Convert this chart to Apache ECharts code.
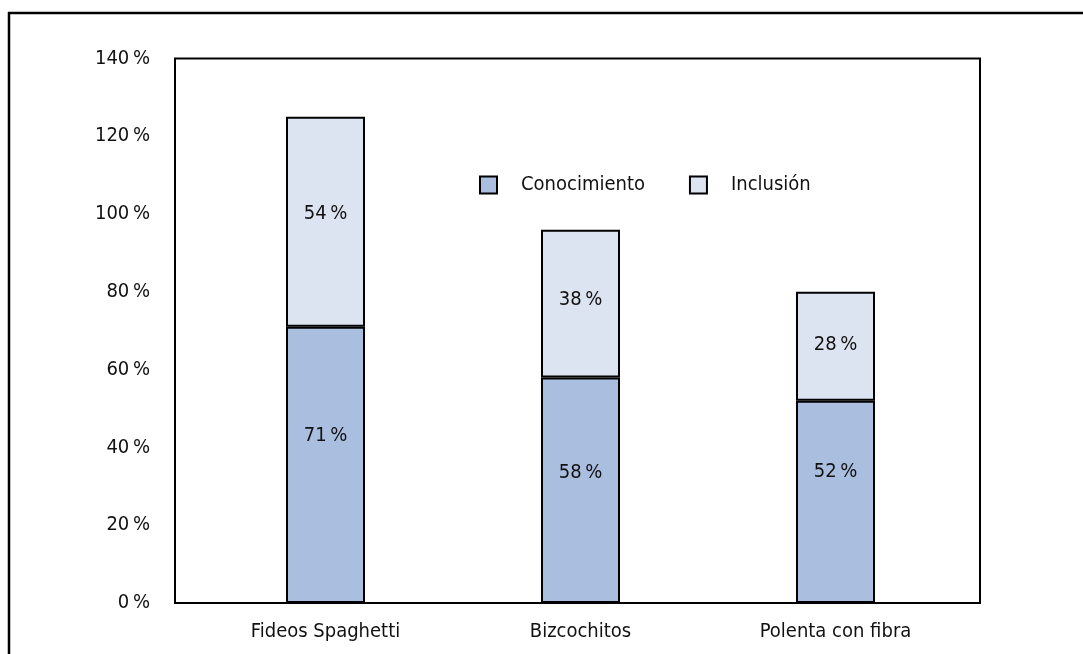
<!DOCTYPE html>
<html>
<head>
<meta charset="utf-8">
<script src="https://cdn.jsdelivr.net/npm/echarts@6/dist/echarts.min.js"></script>
<style>
  html, body { margin: 0; padding: 0; background: #fff; }
  #chart { width: 1083px; height: 654px; }
</style>
</head>
<body>
<div id="chart"></div>
<script>
// Productos evaluados
const categories = ['Fideos Spaghetti', 'Bizcochitos', 'Polenta con fibra'];
// Porcentajes por serie (apiladas)
const conocimiento = [71, 58, 52];
const inclusion = [54, 38, 28];
// Marcas del eje vertical
const yTicks = [0, 20, 40, 60, 80, 100, 120, 140];

const FONT = '"DejaVu Sans Condensed", "Liberation Sans Narrow", Roboto, sans-serif';
const FS = 20;
const FW = 'normal';
const INK = '#111';
const pct = v => v + '\u2009%';

// Desplazamiento vertical de las etiquetas dentro de cada segmento
const conocLabelShift = [-29, -17, -30];
const inclLabelShift = [-8, -4, -2];

const chart = echarts.init(document.getElementById('chart'), null, { renderer: 'canvas' });

function seriesData(values, shifts) {
  return values.map((v, i) => ({ value: v, label: { offset: [0, shifts[i]] } }));
}

const txt = extra => Object.assign({ fontFamily: FONT, fontSize: FS, fontWeight: FW, color: INK }, extra || {});

const option = {
  animation: false,
  backgroundColor: '#ffffff',
  textStyle: { fontFamily: FONT },
  grid: { left: 198, right: 120, top: 58.5, bottom: 51, containLabel: false },
  graphic: [
    // marco exterior (superior e izquierdo)
    { type: 'line', z: 0, shape: { x1: 8, y1: 13, x2: 1083, y2: 13 }, style: { stroke: '#000', lineWidth: 2.5 } },
    { type: 'line', z: 0, shape: { x1: 9, y1: 12, x2: 9, y2: 654 }, style: { stroke: '#000', lineWidth: 2.5 } },
    // marco del área de trazado
    { type: 'rect', z: 0, shape: { x: 175, y: 58.5, width: 805, height: 544.5 }, style: { fill: null, stroke: '#000', lineWidth: 2 } }
  ],
  legend: {
    left: 474,
    top: 170,
    itemWidth: 17,
    itemHeight: 17,
    itemGap: 44,
    icon: 'rect',
    data: ['Conocimiento', 'Inclusión'],
    textStyle: txt({ padding: [0, 0, 0, 19] })
  },
  xAxis: {
    type: 'category',
    data: categories,
    axisLine: { show: false },
    axisTick: { show: false },
    axisLabel: txt({ margin: 19 })
  },
  yAxis: {
    type: 'value',
    min: yTicks[0],
    max: yTicks[yTicks.length - 1],
    interval: yTicks[1] - yTicks[0],
    axisLine: { show: false },
    axisTick: { show: false },
    splitLine: { show: false },
    axisLabel: txt({ margin: 48, formatter: pct })
  },
  series: [
    {
      name: 'Conocimiento',
      type: 'bar',
      stack: 'total',
      barWidth: 79,
      data: seriesData(conocimiento, conocLabelShift),
      itemStyle: { color: '#aabfdf', borderColor: '#000', borderWidth: 2 },
      label: txt({ show: true, position: 'inside', formatter: p => pct(p.value) })
    },
    {
      name: 'Inclusión',
      type: 'bar',
      stack: 'total',
      barWidth: 79,
      data: seriesData(inclusion, inclLabelShift),
      itemStyle: { color: '#dde4f1', borderColor: '#000', borderWidth: 2 },
      label: txt({ show: true, position: 'inside', formatter: p => pct(p.value) })
    }
  ]
};

chart.setOption(option);
</script>
</body>
</html>
